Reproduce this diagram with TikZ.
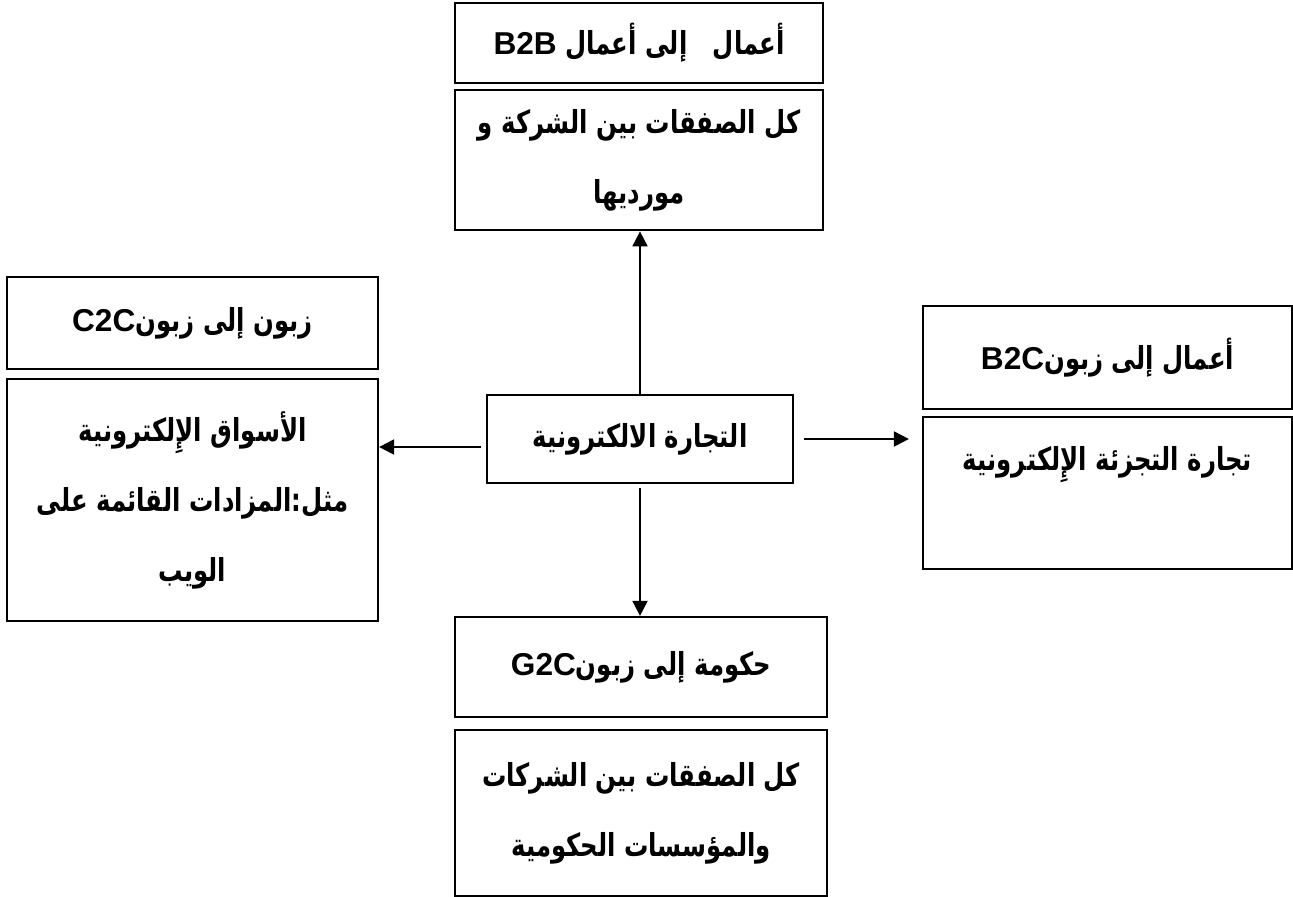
\documentclass[tikz,border=0pt]{standalone}
\usepackage{fontspec}
\usetikzlibrary{positioning, arrows.meta}
\TeXXeTstate=1
\newfontfamily\arabicfont[Script=Arabic, FakeStretch=0.77]{DejaVu Sans}
\newfontfamily\latinfont{Liberation Sans}
% arabic line, right to left
\newcommand{\ar}[1]{\beginR #1\endR}
\newcommand{\lat}[1]{\beginL{\latinfont\bfseries #1}\endL}

\begin{document}
\begin{tikzpicture}[
    x=0.02cm, y=-0.02cm,
    thick,
    every node/.style={font=\arabicfont\bfseries\fontsize{18}{40}\selectfont, align=center},
    box/.style={draw, line width=1.3pt, inner sep=2pt},
    link/.style={line width=1.1pt, -{Triangle[length=0.3cm, width=0.3cm]}}
]
\useasboundingbox (0,0) rectangle (1293,896);
% draw the boxes
\node[box, minimum width=6.12cm, minimum height=1.76cm] (ec) at (640,439) {\ar{التجارة الالكترونية}};

\node[box, minimum width=7.36cm, minimum height=1.6cm] (b2b) at (639,43) {\ar{أعمال\ \ \ إلى أعمال \lat{B2B}}};
\node[box, minimum width=7.36cm, minimum height=2.8cm] (b2bd) [below=0.1cm of b2b]
    {\ar{كل الصفقات بين الشركة و}\\ \ar{مورديها}};

\node[box, minimum width=7.42cm, minimum height=1.84cm] (c2c) at (192.5,323) {\ar{زبون إلى زبون\lat{C2C}}};
\node[box, minimum width=7.42cm, minimum height=4.84cm] (c2cd) [below=0.16cm of c2c]
    {\ar{الأسواق الإِلكترونية}\\ \ar{مثل:المزادات القائمة على}\\ \ar{الويب}};

\node[box, minimum width=7.38cm, minimum height=2.06cm] (b2c) at (1107.5,357.5) {\ar{أعمال إلى زبون\lat{B2C}}};
\node[box, minimum width=7.38cm, minimum height=3.04cm] (b2cd) [below=0.12cm of b2c]
    {\ar{تجارة التجزئة الإِلكترونية}\\ \mbox{}};

\node[box, minimum width=7.44cm, minimum height=2cm] (g2c) at (641,667) {\ar{حكومة إلى زبون\lat{G2C}}};
\node[box, minimum width=7.44cm, minimum height=3.32cm] (g2cd) [below=0.22cm of g2c]
    {\ar{كل الصفقات بين الشركات}\\ \ar{والمؤسسات الحكومية}};

% free ends beside the centre box
\coordinate (l) at ([shift={(-5,8)}]ec.west);
\coordinate (r) at ([shift={(10,0)}]ec.east);
% draw the edges
\path[link]
(ec.north) edge (ec.north |- b2bd.south)
(ec.south) edge [shorten <=0.08cm] (ec.south |- g2c.north)
(l) edge (l -| c2cd.east)
(r) edge [shorten >=0.26cm] (r -| b2cd.west)
;
\end{tikzpicture}
\end{document}
